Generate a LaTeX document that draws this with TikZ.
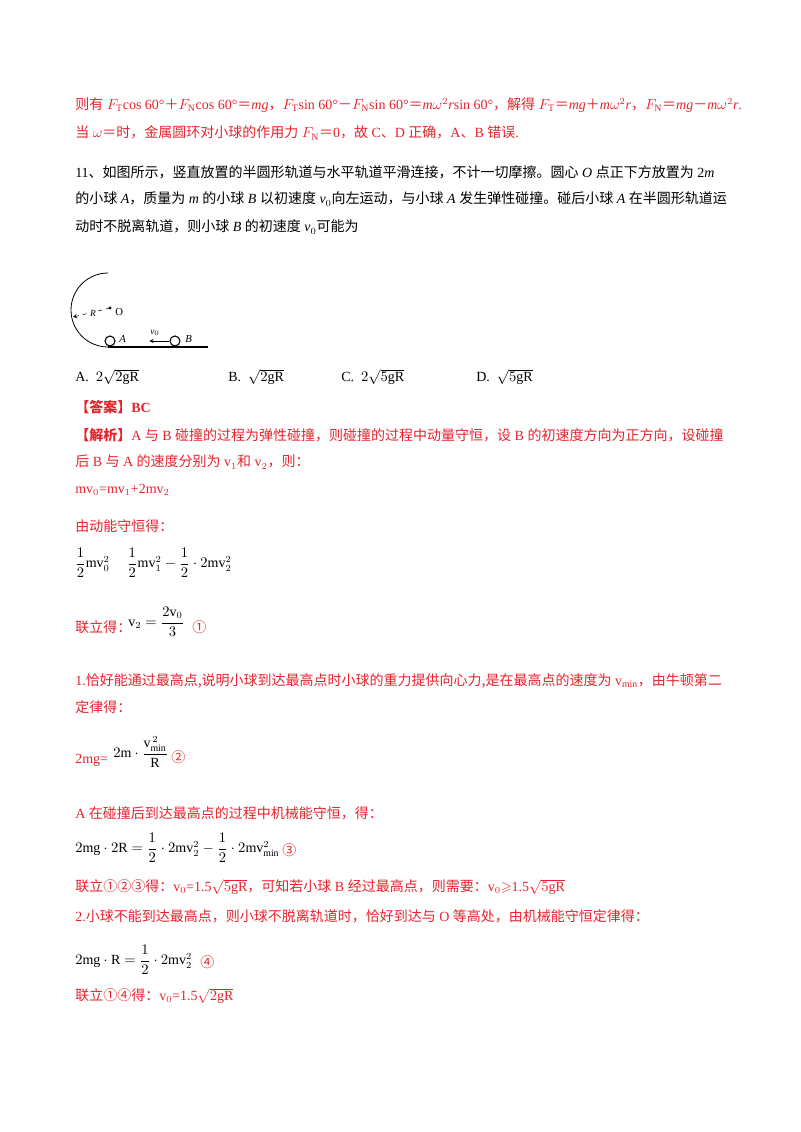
\documentclass[tikz,border=0pt]{standalone}
\usepackage{fontspec}
\usepackage{amsmath,amssymb}
\setmainfont{Liberation Serif}
\newfontfamily\cjk{Noto Sans CJK SC}
\definecolor{ansred}{RGB}{232,35,45}
\newcommand{\C}[1]{{\cjk #1}}
\begin{document}
\begin{tikzpicture}[x=0.75pt,y=-0.75pt,
  txt/.style={anchor=west,inner sep=0pt,font=\fontsize{10.5}{12}\selectfont},
  rtxt/.style={txt,text=ansred},
  ball/.style={draw,thick,circle,minimum size=7.5pt,inner sep=0pt}]
\useasboundingbox (0,0) rectangle (800,1132);
\fill[white] (0,0) rectangle (800,1132);
\node[rtxt] (l1) at (75,105) {\C{则有} $F_{\mathrm T}$cos 60°\C{＋}$F_{\mathrm N}$cos 60°\C{＝}\textit{mg}\C{，}$F_{\mathrm T}$sin 60°\C{－}$F_{\mathrm N}$sin 60°\C{＝}\textit{m}$\omega^2$\textit{r}sin 60°\C{，解得} $F_{\mathrm T}$\C{＝}\textit{mg}\C{＋}\textit{m}$\omega^2$\textit{r}\C{，}$F_{\mathrm N}$\C{＝}\textit{mg}\C{－}\textit{m}$\omega^2$\textit{r}.};
\node[rtxt] (l2) at (75,133) {\C{当} $\omega$\C{＝时，金属圆环对小球的作用力} $F_{\mathrm N}$\C{＝}0\C{，故} C\C{、}D \C{正确，}A\C{、}B \C{错误}.};
\node[txt] (l3) at (75,172) {11\C{、如图所示，竖直放置的半圆形轨道与水平轨道平滑连接，不计一切摩擦。圆心} \textit{O} \C{点正下方放置为} 2\textit{m}};
\node[txt] (l4) at (75,199) {\C{的小球} \textit{A}\C{，质量为} \textit{m} \C{的小球} \textit{B} \C{以初速度} \textit{v}$_0$\C{向左运动，与小球} \textit{A} \C{发生弹性碰撞。碰后小球} \textit{A} \C{在半圆形轨道运}};
\node[txt] (l5) at (75,227) {\C{动时不脱离轨道，则小球} \textit{B} \C{的初速度} \textit{v}$_0$\C{可能为}};
% figure
\draw[semithick] (108,273) arc[start angle=270,end angle=90,radius=37];
\draw[thick] (108,347) -- (208,347);
\node[ball] (A) at (110,341) {};
\node[ball] (B) at (175,341) {};
\node[txt,font=\itshape\footnotesize] at (119,339) {A};
\node[txt,font=\itshape\footnotesize] at (185,339) {B};
\coordinate (O) at (110,308);
\fill (O) circle (1.2pt);
\node[txt,font=\footnotesize] at (115,312) {O};
\coordinate (Rend) at (73,317);
\draw[dashed,->,>=stealth] (O) -- (Rend);
\node[fill=white,inner sep=0.5pt,font=\itshape\scriptsize] at (93,313) {R};
\draw[->,>=stealth] (B.west) -- ++(-20,0) coordinate (vend);
\node[font=\scriptsize,inner sep=0pt] at (155,333) {\textit{v}$_0$};
% options
\node[txt] (oa) at (75,377) {A. \ $2\sqrt{2\mathrm{gR}}$};
\node[txt] (ob) at (228,377) {B. \ $\sqrt{2\mathrm{gR}}$};
\node[txt] (oc) at (341,377) {C. \ $2\sqrt{5\mathrm{gR}}$};
\node[txt] (od) at (476,377) {D. \ $\sqrt{5\mathrm{gR}}$};
\node[rtxt] (ans) at (75,407) {\C{\bfseries 【答案】}\textbf{BC}};
\node[rtxt] (j1) at (75,435) {\C{\bfseries 【解析】}A \C{与} B \C{碰撞的过程为弹性碰撞，则碰撞的过程中动量守恒，设} B \C{的初速度方向为正方向，设碰撞}};
\node[rtxt] (j2) at (75,462) {\C{后} B \C{与} A \C{的速度分别为} v$_1$\C{和} v$_2$\C{，则：}};
\node[rtxt] (j3) at (75,490) {mv$_0$=mv$_1$+2mv$_2$};
\node[rtxt] (j4) at (75,526) {\C{由动能守恒得：}};
\node[txt] (e1) at (75,563) {$\dfrac{1}{2}\mathrm{mv}_0^2\quad\ \dfrac{1}{2}\mathrm{mv}_1^2-\dfrac{1}{2}\cdot2\mathrm{mv}_2^2$};
\node[rtxt] (e2l) at (75,627) {\C{联立得：}};
\node[txt] (e2) at (128,622) {$\mathrm{v}_2=\dfrac{2\mathrm{v}_0}{3}$};
\node[rtxt] (c1) at (192,627) {\C{①}};
\node[rtxt] (k1) at (75,681) {1.\C{恰好能通过最高点,说明小球到达最高点时小球的重力提供向心力,是在最高点的速度为} v$_{\min}$\C{，由牛顿第二}};
\node[rtxt] (k2) at (75,707) {\C{定律得：}};
\node[rtxt] (k3) at (75,760) {2mg=};
\node[txt] (k4) at (113,752) {$2\mathrm{m}\cdot\dfrac{\mathrm{v}_{\min}^{\,2}}{\mathrm{R}}$};
\node[rtxt] (c2) at (171,757) {\C{②}};
\node[rtxt] (k5) at (75,813) {A \C{在碰撞后到达最高点的过程中机械能守恒，得：}};
\node[txt] (k6) at (75,848) {$2\mathrm{mg}\cdot2\mathrm{R}=\dfrac{1}{2}\cdot2\mathrm{mv}_2^2-\dfrac{1}{2}\cdot2\mathrm{mv}_{\min}^2$};
\node[rtxt] (c3) at (282,850) {\C{③}};
\node[rtxt] (k7) at (75,887) {\C{联立①②③得：}v$_0$=1.5$\sqrt{5\mathrm{gR}}$\C{，可知若小球} B \C{经过最高点，则需要：}v$_0$$\geqslant$1.5$\sqrt{5\mathrm{gR}}$};
\node[rtxt] (k8) at (75,916) {2.\C{小球不能到达最高点，则小球不脱离轨道时，恰好到达与} O \C{等高处，由机械能守恒定律得：}};
\node[txt] (k9) at (75,960) {$2\mathrm{mg}\cdot\mathrm{R}=\dfrac{1}{2}\cdot2\mathrm{mv}_2^2$};
\node[rtxt] (c4) at (200,962) {\C{④}};
\node[rtxt] (k10) at (75,996) {\C{联立①④得：}v$_0$=1.5$\sqrt{2\mathrm{gR}}$};
\end{tikzpicture}
\end{document}
